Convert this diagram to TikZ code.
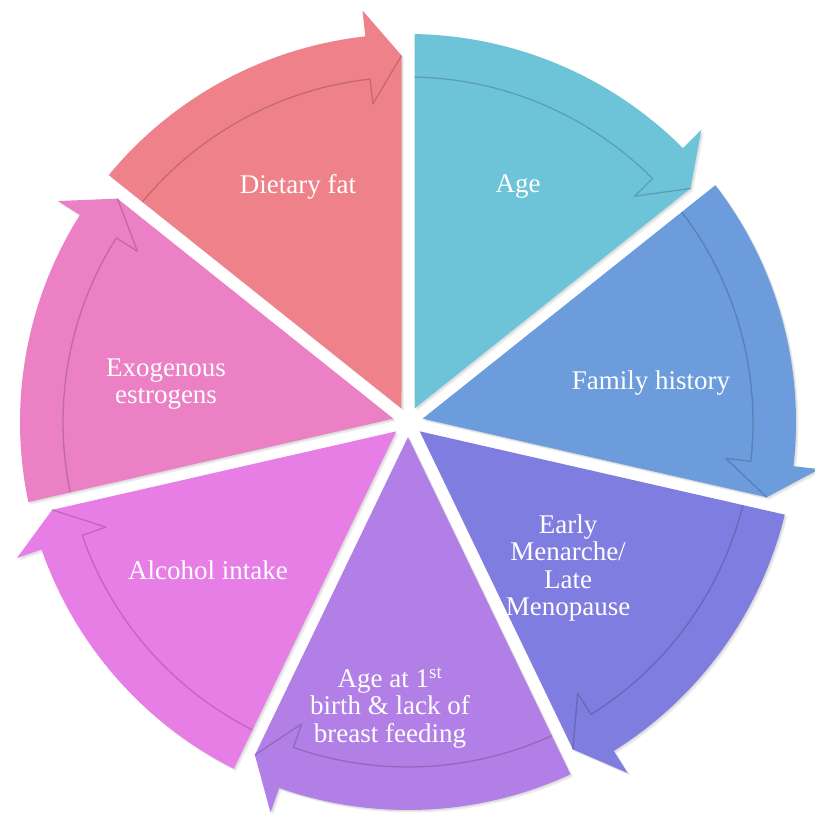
\documentclass[tikz,border=0pt]{standalone}
\usepackage{fontspec}
\setmainfont{Liberation Serif}
\usetikzlibrary{calc}

\definecolor{cAge}{HTML}{6DC3D8}
\definecolor{cFam}{HTML}{6C9CDC}
\definecolor{cMen}{HTML}{7F7DE0}
\definecolor{cBirth}{HTML}{B17FE6}
\definecolor{cAlc}{HTML}{E67EE6}
\definecolor{cExo}{HTML}{EB80C4}
\definecolor{cFat}{HTML}{EE8189}

\tikzset{
  label/.style={text=white, align=center,
    font=\fontsize{27}{27.5}\selectfont},
  bandline/.style={line width=1.3pt, line join=round},
}

% geometry of the ring of segments
\def\Rout{388}
\def\Rin{345}
\def\Rmid{366.5}
\def\Rob{414}
\def\Rib{320}
\def\gap{6.5}
\def\headlen{5.3}

\begin{document}
\begin{tikzpicture}[x=1pt,y=1pt]
\useasboundingbox (0,0) rectangle (814,-818);
\fill[white] (0,0) rectangle (814,-818);

\begin{scope}[shift={(408,-422)}]
  \foreach \k/\col in {0/cAge,1/cFam,2/cMen,3/cBirth,4/cAlc,5/cExo,6/cFat}{
    \pgfmathsetmacro\a{90-51.4285714*\k}
    \pgfmathsetmacro\b{\a-51.4285714}
    \pgfmathsetmacro\m{\a-25.7142857}
    \pgfmathsetmacro\da{asin(\gap/\Rout)}
    \pgfmathsetmacro\di{asin(\gap/\Rin)}
    \pgfmathsetmacro\dt{asin(\gap/\Rmid)}
    \pgfmathsetmacro\sa{\a-\da}
    \pgfmathsetmacro\si{\a-\di}
    \pgfmathsetmacro\tp{\b+\dt}
    \pgfmathsetmacro\c{\tp+\headlen}
    % soft shadow
    \fill[black, opacity=0.07, shift={(2.5,-2.5)}]
      (\m:15) -- (\sa:\Rout) arc[start angle=\sa, end angle=\c, radius=\Rout]
      -- (\c:\Rob) -- (\tp:\Rmid) -- cycle;
    \fill[black, opacity=0.07, shift={(1.2,-1.2)}]
      (\m:15) -- (\sa:\Rout) arc[start angle=\sa, end angle=\c, radius=\Rout]
      -- (\c:\Rob) -- (\tp:\Rmid) -- cycle;
    % segment with its arrow
    \fill[\col]
      (\m:15) -- (\sa:\Rout) arc[start angle=\sa, end angle=\c, radius=\Rout]
      -- (\c:\Rob) -- (\tp:\Rmid) -- cycle;
    % inner edge of the arrow band
    \draw[bandline, draw=\col!75!black, opacity=0.7]
      (\si:\Rin) arc[start angle=\si, end angle=\c, radius=\Rin]
      -- (\c:\Rib) -- (\tp:\Rmid);
  }
\end{scope}

\node[label] (fat) at (298,-187) {Dietary fat};
\node[label] (age) at (518,-187) {Age};
\node[label] (family) at (651,-383) {Family history};
\node[label] (menarche) at (568,-568) {Early\\Menarche/\\Late\\Menopause};
\node[label] (birth) at (390,-708) {Age at 1\textsuperscript{st}\\birth \& lack of\\breast feeding};
\node[label] (alcohol) at (208,-570) {Alcohol intake};
\node[label] (exo) at (166,-384) {Exogenous\\estrogens};
\end{tikzpicture}
\end{document}
